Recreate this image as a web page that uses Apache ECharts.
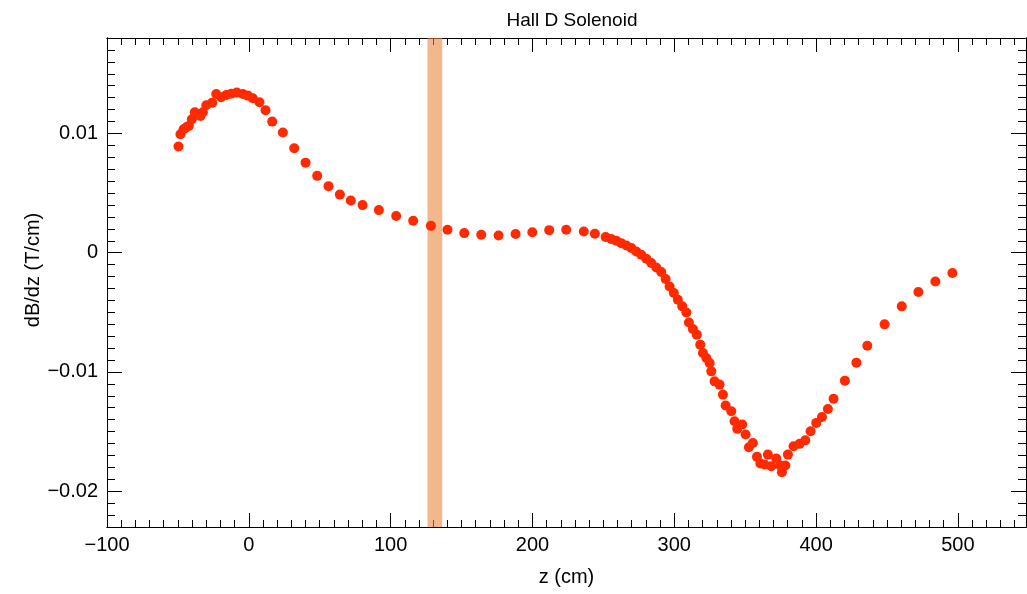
<!DOCTYPE html>
<html>
<head>
<meta charset="utf-8">
<script src="https://cdn.jsdelivr.net/npm/echarts@6/dist/echarts.min.js"></script>
<style>
  html, body { margin: 0; padding: 0; background: #ffffff; }
  #chart { width: 1027px; height: 594px; }
</style>
</head>
<body>
<div id="chart"></div>
<script>
// z positions (cm) and field gradient (T/cm)
const zValues = [
  -49.6, -48.2, -46, -44.2, -42.3, -40.2, -38.1, -34.1, -32.4, -30,
  -25.8, -23, -19.5, -15.9, -12.4, -8.5, -4.2, -0.7, 2.8, 7.5,
  11.8, 16.5, 24, 32, 40, 48.2, 56.2, 64.2, 71.9, 80.2,
  91.7, 103.9, 115.9, 128.4, 140.1, 151.9, 163.9, 176.1, 188.1, 199.9,
  211.8, 223.8, 236.2, 244, 251.6, 255.6, 259.1, 262.6, 266.2, 269.7,
  273.2, 276.7, 280.3, 283.8, 287.3, 290.8, 293.9, 296.7, 299.7, 302.5,
  305.6, 308.5, 310.3, 313.1, 315.9, 318.3, 320.2, 322.6, 324.9, 326.1,
  328.4, 331.9, 334.3, 336.2, 340.2, 342.5, 347.9, 344.4, 350.3, 352.6,
  355.4, 358.3, 360.7, 363.7, 366, 368.4, 371.9, 374.7, 375.9, 378.3,
  380.1, 384.1, 388.4, 392.4, 396.1, 400.1, 404.1, 408.3, 412.3, 420.3,
  428.4, 436.1, 448.3, 460.4, 472.1, 484.1, 496.1
];
const dBdzValues = [
  0.0089, 0.00993, 0.01035, 0.01049, 0.01063, 0.01119, 0.01178, 0.01147, 0.01178, 0.01236,
  0.01258, 0.01331, 0.01303, 0.01322, 0.01333, 0.01342, 0.01331, 0.01317, 0.01295, 0.01261,
  0.01194, 0.01099, 0.01007, 0.00876, 0.00755, 0.00644, 0.00558, 0.00487, 0.00437, 0.00399,
  0.00357, 0.00307, 0.00267, 0.00225, 0.00192, 0.00164, 0.0015, 0.00144, 0.00156, 0.00172,
  0.00189, 0.00192, 0.00178, 0.00158, 0.00131, 0.00114, 0.001, 0.0008, 0.0006, 0.00039,
  0.0001, -0.00018, -0.00051, -0.00087, -0.00124, -0.00162, -0.00221, -0.00283, -0.00338, -0.00394,
  -0.0045, -0.00501, -0.00585, -0.0064, -0.00688, -0.00771, -0.00841, -0.00883, -0.00925, -0.00995,
  -0.01079, -0.01106, -0.0119, -0.01282, -0.0133, -0.01414, -0.01441, -0.01477, -0.01525, -0.01631,
  -0.01595, -0.01712, -0.01768, -0.01776, -0.01693, -0.0179, -0.01726, -0.01785, -0.01841, -0.01785,
  -0.01693, -0.01623, -0.01603, -0.01573, -0.01497, -0.01427, -0.01377, -0.0131, -0.01224, -0.01073,
  -0.00922, -0.0078, -0.00601, -0.0045, -0.0033, -0.00241, -0.00171
];

// shaded z band
const bandStart = 126;
const bandEnd = 136.4;

// axis ranges and ticks
const xMin = -100;
const xMax = 548;
const yMin = -0.023;
const yMax = 0.018;
const xMajorTicks = [-100, 0, 100, 200, 300, 400, 500];
const yMajorTicks = [-0.02, -0.01, 0, 0.01];

const xMinorTicks = [];
for (let v = -90; v < xMax; v += 10) {
  if (v % 100 !== 0) xMinorTicks.push(v);
}
const yMinorTicks = [];
for (let k = -22; k <= 18; k++) {
  if (k % 10 !== 0) yMinorTicks.push(k / 1000);
}

const points = zValues.map((z, i) => [z, dBdzValues[i]]);

const font = "Liberation Sans, Arial, Helvetica, sans-serif";
const black = "#000000";

const fmtY = (v) => {
  if (v === 0) return "0";
  const s = Math.abs(v).toFixed(2);
  return v < 0 ? "\u2212" + s : s;
};
const fmtX = (v) => (v < 0 ? "\u2212" + Math.abs(v) : String(v));

const xAxisBase = (position, ticks, len, labels) => ({
  type: "value",
  position: position,
  min: xMin,
  max: xMax,
  axisLine: { show: true, onZero: false, lineStyle: { color: black, width: 1 } },
  axisTick: {
    show: true,
    inside: true,
    length: len,
    customValues: ticks,
    lineStyle: { color: black, width: 1 },
  },
  axisLabel: labels
    ? {
        show: true,
        customValues: xMajorTicks,
        formatter: fmtX,
        color: black,
        fontSize: 20,
        fontFamily: font,
        margin: 8,
      }
    : { show: false },
  splitLine: { show: false },
});

const yAxisBase = (position, ticks, len, labels) => ({
  type: "value",
  position: position,
  min: yMin,
  max: yMax,
  axisLine: { show: true, onZero: false, lineStyle: { color: black, width: 1 } },
  axisTick: {
    show: true,
    inside: true,
    length: len,
    customValues: ticks,
    lineStyle: { color: black, width: 1 },
  },
  axisLabel: labels
    ? {
        show: true,
        customValues: yMajorTicks,
        formatter: fmtY,
        color: black,
        fontSize: 20,
        fontFamily: font,
        margin: 9,
      }
    : { show: false },
  splitLine: { show: false },
});

const chart = echarts.init(document.getElementById("chart"));

const option = {
  backgroundColor: "#ffffff",
  animation: false,
  title: {
    text: "Hall D Solenoid",
    left: 567,
    top: 6,
    textAlign: "center",
    textStyle: { color: black, fontSize: 19, fontWeight: "normal", fontFamily: font },
  },
  grid: { left: 107, right: 1, top: 38, bottom: 67, containLabel: false },
  xAxis: [
    Object.assign(xAxisBase("bottom", xMajorTicks, 14, true), {
      name: "z (cm)",
      nameLocation: "middle",
      nameGap: 40,
      nameTextStyle: { color: black, fontSize: 20, fontFamily: font },
    }),
    xAxisBase("bottom", xMinorTicks, 7, false),
    xAxisBase("top", xMajorTicks, 14, false),
    xAxisBase("top", xMinorTicks, 7, false),
  ],
  yAxis: [
    yAxisBase("left", yMajorTicks, 15, true),
    yAxisBase("left", yMinorTicks, 8, false),
    yAxisBase("right", yMajorTicks, 15, false),
    yAxisBase("right", yMinorTicks, 8, false),
  ],
  graphic: [
    {
      type: "text",
      x: 33,
      y: 270,
      rotation: Math.PI / 2,
      style: {
        text: "dB/dz (T/cm)",
        fill: black,
        font: "20px " + font,
        textAlign: "center",
        textVerticalAlign: "middle",
      },
    },
  ],
  series: [
    {
      type: "scatter",
      xAxisIndex: 0,
      yAxisIndex: 0,
      data: points,
      symbol: "circle",
      symbolSize: 10,
      itemStyle: { color: "#ff2a00", opacity: 1 },
      z: 2,
    },
    {
      type: "scatter",
      xAxisIndex: 0,
      yAxisIndex: 0,
      data: [],
      z: 5,
      markArea: {
        silent: true,
        itemStyle: { color: "rgba(236, 132, 57, 0.59)" },
        data: [[{ xAxis: bandStart }, { xAxis: bandEnd }]],
      },
    },
  ],
};

chart.setOption(option);
</script>
</body>
</html>
